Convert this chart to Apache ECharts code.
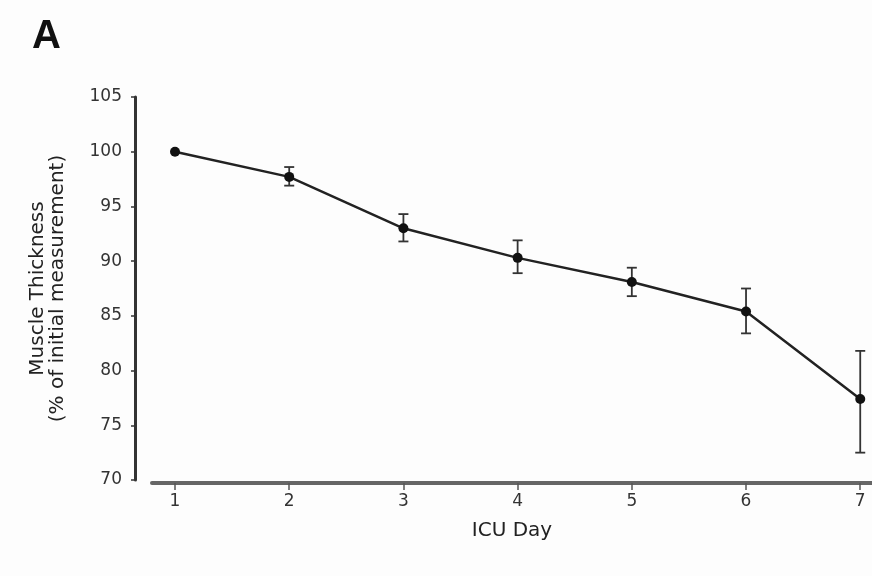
<!DOCTYPE html>
<html lang="en">
<head>
    <meta charset="UTF-8">
    <script type="text/javascript" src="https://cdn.jsdelivr.net/npm/echarts@6.0.0/dist/echarts.min.js"></script>
    <style>
        html, body {
            margin: 0;
            overflow: hidden;
            background: #fdfdfd;
        }
        #viewport {
            position: absolute;
            left: 0px;
            top: 0px;
            width: 872px;
            height: 576px;
        }
    </style>
</head>
<body>
<div id="viewport"></div>
<script>
    // ICU day vs muscle thickness (% of first measurement), mean with error bars
    var days = [1, 2, 3, 4, 5, 6, 7];
    var means = [100, 97.7, 93.0, 90.3, 88.1, 85.4, 77.4];
    var lower = [100, 96.9, 91.8, 88.9, 86.8, 83.4, 72.5];
    var upper = [100, 98.6, 94.3, 91.9, 89.4, 87.5, 81.8];
    var yTicks = [70, 75, 80, 85, 90, 95, 100, 105];

    var FONT = '"DejaVu Sans", sans-serif';

    var myChart = echarts.init(document.getElementById('viewport'), null, {renderer: 'canvas'});

    var lineData = days.map(function (d, i) { return [d, means[i]]; });
    var errData = days.map(function (d, i) { return [d, lower[i], upper[i]]; });

    var option = {
        animation: false,
        backgroundColor: '#fdfdfd',
        title: {
            text: 'A',
            left: 27,
            top: 12,
            textStyle: {fontSize: 40, fontWeight: 'bold', color: '#111', fontFamily: 'Liberation Sans, Arial, sans-serif'}
        },
        grid: [
            // data grid, owns the y axis
            {left: 135, right: 0, top: 97, bottom: 96},
            // detached x axis, starts a bit right of the y axis
            {left: 152, right: 0, top: 97, bottom: 93}
        ],
        xAxis: [
            {gridIndex: 0, type: 'value', min: 0.6497, max: 7.103, show: false},
            {
                gridIndex: 1, type: 'value', min: 0.7986, max: 7.103,
                name: 'ICU Day', nameLocation: 'middle', nameGap: 38,
                nameTextStyle: {fontSize: 20, color: '#222', fontFamily: FONT},
                axisLine: {show: true, lineStyle: {color: '#666', width: 4}},
                axisTick: {show: true, length: 7, customValues: days, lineStyle: {color: '#555', width: 1.5}},
                axisLabel: {customValues: days, margin: 10, fontSize: 17, color: '#333', fontFamily: FONT},
                splitLine: {show: false}
            }
        ],
        yAxis: [
            {
                gridIndex: 0, type: 'value', min: 70, max: 105, interval: 5,
                name: 'Muscle Thickness\n(% of initial measurement)',
                nameLocation: 'middle', nameGap: 67,
                nameTextStyle: {fontSize: 20, lineHeight: 20, color: '#222', fontFamily: FONT},
                axisLine: {show: true, lineStyle: {color: '#333', width: 3}},
                axisTick: {show: true, length: 4, lineStyle: {color: '#333', width: 1.5}},
                axisLabel: {margin: 13, fontSize: 17, color: '#333', fontFamily: FONT},
                splitLine: {show: false}
            },
            {gridIndex: 1, type: 'value', min: 70, max: 105, show: false}
        ],
        series: [
            {
                type: 'custom',
                xAxisIndex: 0,
                yAxisIndex: 0,
                data: errData,
                z: 3,
                renderItem: function (params, api) {
                    var x = api.value(0);
                    var lo = api.coord([x, api.value(1)]);
                    var hi = api.coord([x, api.value(2)]);
                    if (Math.abs(hi[1] - lo[1]) < 1) {
                        return null;
                    }
                    var hw = 5;
                    var st = {stroke: '#333', lineWidth: 1.8};
                    return {
                        type: 'group',
                        children: [
                            {type: 'line', shape: {x1: hi[0], y1: hi[1], x2: lo[0], y2: lo[1]}, style: st},
                            {type: 'line', shape: {x1: hi[0] - hw, y1: hi[1], x2: hi[0] + hw, y2: hi[1]}, style: st},
                            {type: 'line', shape: {x1: lo[0] - hw, y1: lo[1], x2: lo[0] + hw, y2: lo[1]}, style: st}
                        ]
                    };
                }
            },
            {
                type: 'line',
                xAxisIndex: 0,
                yAxisIndex: 0,
                data: lineData,
                z: 4,
                symbol: 'circle',
                symbolSize: 10,
                itemStyle: {color: '#111'},
                lineStyle: {color: '#222', width: 2.5}
            }
        ]
    };

    myChart.setOption(option);
</script>
</body>
</html>
